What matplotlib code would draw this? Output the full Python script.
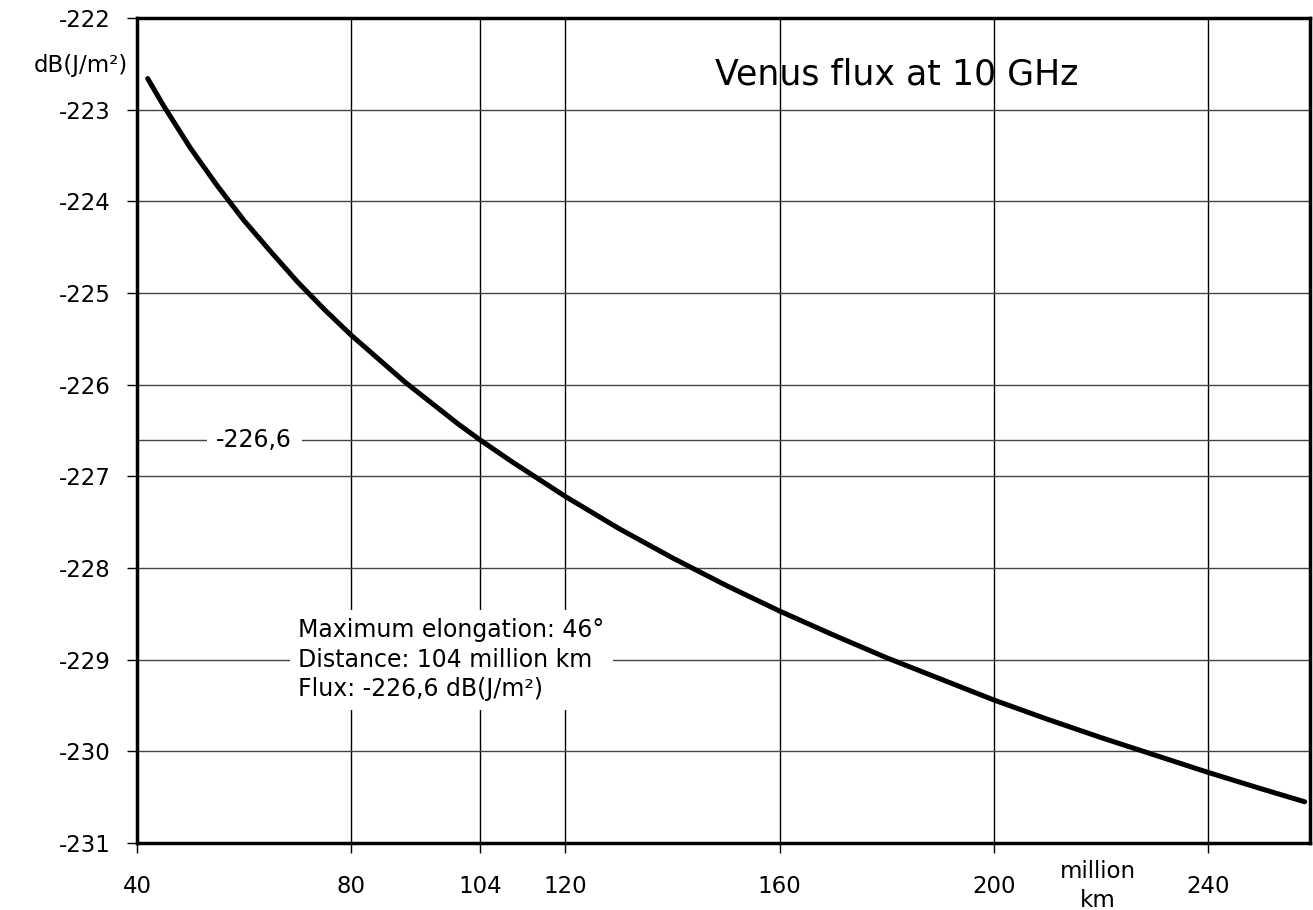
import matplotlib
matplotlib.use("Agg")
import matplotlib.pyplot as plt

# distance (million km) vs flux (dB(J/m2))
dist = [42, 45, 50, 55, 60, 65, 70, 75, 80, 90, 100, 104, 110, 120, 130, 140,
        150, 160, 170, 180, 190, 200, 210, 220, 230, 240, 250, 258]
flux = [-222.66, -222.96, -223.42, -223.83, -224.21, -224.55, -224.88, -225.18,
        -225.46, -225.97, -226.43, -226.60, -226.84, -227.22, -227.57, -227.89,
        -228.19, -228.47, -228.73, -228.98, -229.21, -229.44, -229.65, -229.85,
        -230.04, -230.23, -230.41, -230.55]

xticks = [40, 80, 104, 120, 160, 200, 240]
yticks = [-222, -223, -224, -225, -226, -227, -228, -229, -230, -231]
mark_y = -226.6

plt.rcParams['font.family'] = ['DejaVu Sans']

fig = plt.figure(figsize=(13.13, 9.10), dpi=100)
ax = fig.add_axes([0.1043, 0.0736, 0.8934, 0.9066])

ax.set_xlim(40, 259)
ax.set_ylim(-231, -222)

for x in xticks[1:]:
    ax.axvline(x, color='black', lw=1.0, zorder=1)
for y in yticks[1:-1]:
    ax.axhline(y, color='#444444', lw=1.0, zorder=1)
ax.axhline(mark_y, color='#444444', lw=1.0, zorder=1)

ax.plot(dist, flux, color='black', lw=3.6, solid_capstyle='round', zorder=3)

ax.set_xticks(xticks)
ax.set_yticks(yticks)
ax.set_yticklabels([str(v) for v in yticks])
ax.tick_params(axis='both', labelsize=16.5, length=7, width=1, direction='out')
ax.tick_params(axis='y', pad=12)
ax.tick_params(axis='x', pad=16)
for s in ax.spines.values():
    s.set_linewidth(2.5)

ax.text(-0.008, 0.943, 'dB(J/m²)', transform=ax.transAxes, ha='right', va='center',
        fontsize=16.5)
ax.text(0.819, -0.02, 'million\nkm', transform=ax.transAxes, ha='center', va='top',
        fontsize=16.5, linespacing=1.35)
ax.text(0.648, 0.931, 'Venus flux at 10 GHz', transform=ax.transAxes, ha='center',
        va='center', fontsize=25)

ax.text(61.9, mark_y, '-226,6', ha='center', va='center', fontsize=17,
        bbox=dict(facecolor='white', edgecolor='none', pad=7), zorder=4)
ax.text(70.1, -229.0, 'Maximum elongation: 46°\nDistance: 104 million km\nFlux: -226,6 dB(J/m²)',
        ha='left', va='center', fontsize=17, linespacing=1.3,
        bbox=dict(facecolor='white', edgecolor='none', pad=6), zorder=4)

fig.savefig('out.png', dpi=100)
